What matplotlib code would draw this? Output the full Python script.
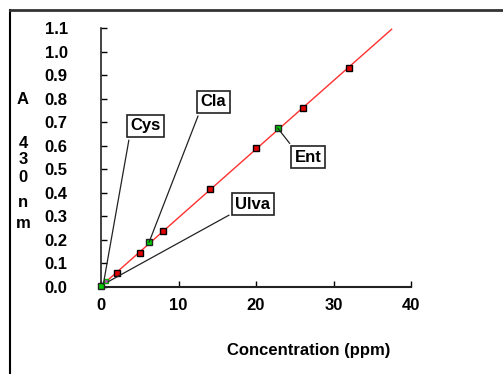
import matplotlib
matplotlib.use("Agg")
import matplotlib.pyplot as plt
from matplotlib.lines import Line2D
import numpy as np

# Calibration standards (red)
std_conc = [2, 5, 8, 14, 20, 26, 32]
std_abs = [0.06, 0.144, 0.238, 0.416, 0.59, 0.76, 0.93]

# Samples (green)
sample_names = ["Blank", "Cla", "Ent"]
sample_conc = [0.0, 6.2, 22.8]
sample_abs = [0.005, 0.19, 0.675]

# Small samples near origin
cys_point = (0.3, 0.012)
ulva_point = (0.9, 0.022)
mag_conc = [0.6]
mag_abs = [0.025]

fit_x_max = 37.5

x_ticks = [0, 10, 20, 30, 40]
y_ticks = [0.0, 0.1, 0.2, 0.3, 0.4, 0.5, 0.6, 0.7, 0.8, 0.9, 1.0, 1.1]

W, H = 503, 374
fig = plt.figure(figsize=(W / 100, H / 100), dpi=100)
fig.patch.set_facecolor("white")

font = "Liberation Sans"
fs = 12

def fx(px):
    return px / W

def fy(py):
    return 1 - py / H

ax = fig.add_axes([fx(101), fy(287), fx(411) - fx(101), fy(28) - fy(287)])
ax.set_xlim(0, 40)
ax.set_ylim(0, 1.1)
for s in ["top", "right"]:
    ax.spines[s].set_visible(False)
ax.spines["left"].set_linewidth(1.2)
ax.spines["bottom"].set_linewidth(1.5)
ax.spines["left"].set_color("#222222")
ax.spines["bottom"].set_color("#222222")

ax.set_xticks(x_ticks)
ax.set_xticklabels([str(v) for v in x_ticks], fontname=font, fontweight="bold", fontsize=fs)
ax.set_yticks(y_ticks)
ax.set_yticklabels([f"{v:.1f}" for v in y_ticks], fontname=font, fontweight="bold", fontsize=fs)
ax.tick_params(axis="y", direction="in", length=4, width=1, pad=24)
ax.tick_params(axis="x", direction="in", length=4, width=1, pad=8)

# fit line
coef = np.polyfit(std_conc, std_abs, 1)
xf = np.array([0, fit_x_max])
ax.plot(xf, np.polyval(coef, xf), color="#ff3030", lw=1, zorder=2)

ax.plot(std_conc, std_abs, ls="none", marker="s", ms=4.5, mfc="#e00000", mec="black", mew=1, zorder=4)
ax.plot(sample_conc, sample_abs, ls="none", marker="s", ms=4.5, mfc="#00cc00", mec="#222222", mew=1, zorder=4, clip_on=False)
ax.plot(mag_conc, mag_abs, ls="none", marker="s", ms=3.5, mfc="#cc44cc", mec="#00aa00", mew=1, zorder=4, clip_on=False)

bbox = dict(boxstyle="square,pad=0.2", fc="white", ec="#222222", lw=1.2)
ann = dict(fontname=font, fontweight="bold", fontsize=fs, ha="center", va="center", bbox=bbox)

def annotate(text, target, pos, relpos):
    ax.annotate(text, xy=target, xytext=pos, textcoords="data",
                arrowprops=dict(arrowstyle="-", color="#222222", lw=0.9, relpos=relpos,
                                shrinkA=2, shrinkB=0),
                zorder=5, annotation_clip=False, **ann)

annotate("Cys", cys_point, (5.7, 0.684), (0.0, 0.0))
annotate("Cla", (sample_conc[1], sample_abs[1]), (14.5, 0.786), (0.0, 0.0))
annotate("Ent", (sample_conc[2], sample_abs[2]), (26.7, 0.552), (0.0, 1.0))
annotate("Ulva", ulva_point, (19.6, 0.352), (0.0, 0.0))

# axis labels
fig.text(fx(309), fy(350), "Concentration (ppm)", fontname=font, fontweight="bold",
         fontsize=fs, ha="center", va="center")
for ch, py in [("A", 99), ("4", 144), ("3", 160), ("0", 177), ("n", 203), ("m", 223)]:
    fig.text(fx(23), fy(py), ch, fontname=font, fontweight="bold", fontsize=fs,
             ha="center", va="center")

# outer frame
fig.add_artist(Line2D([fx(10), fx(10)], [fy(10), 0], color="black", lw=1.5, transform=fig.transFigure))
fig.add_artist(Line2D([fx(10), 1], [fy(10), fy(10)], color="#333333", lw=2, transform=fig.transFigure))

fig.savefig("out.png", dpi=100)
